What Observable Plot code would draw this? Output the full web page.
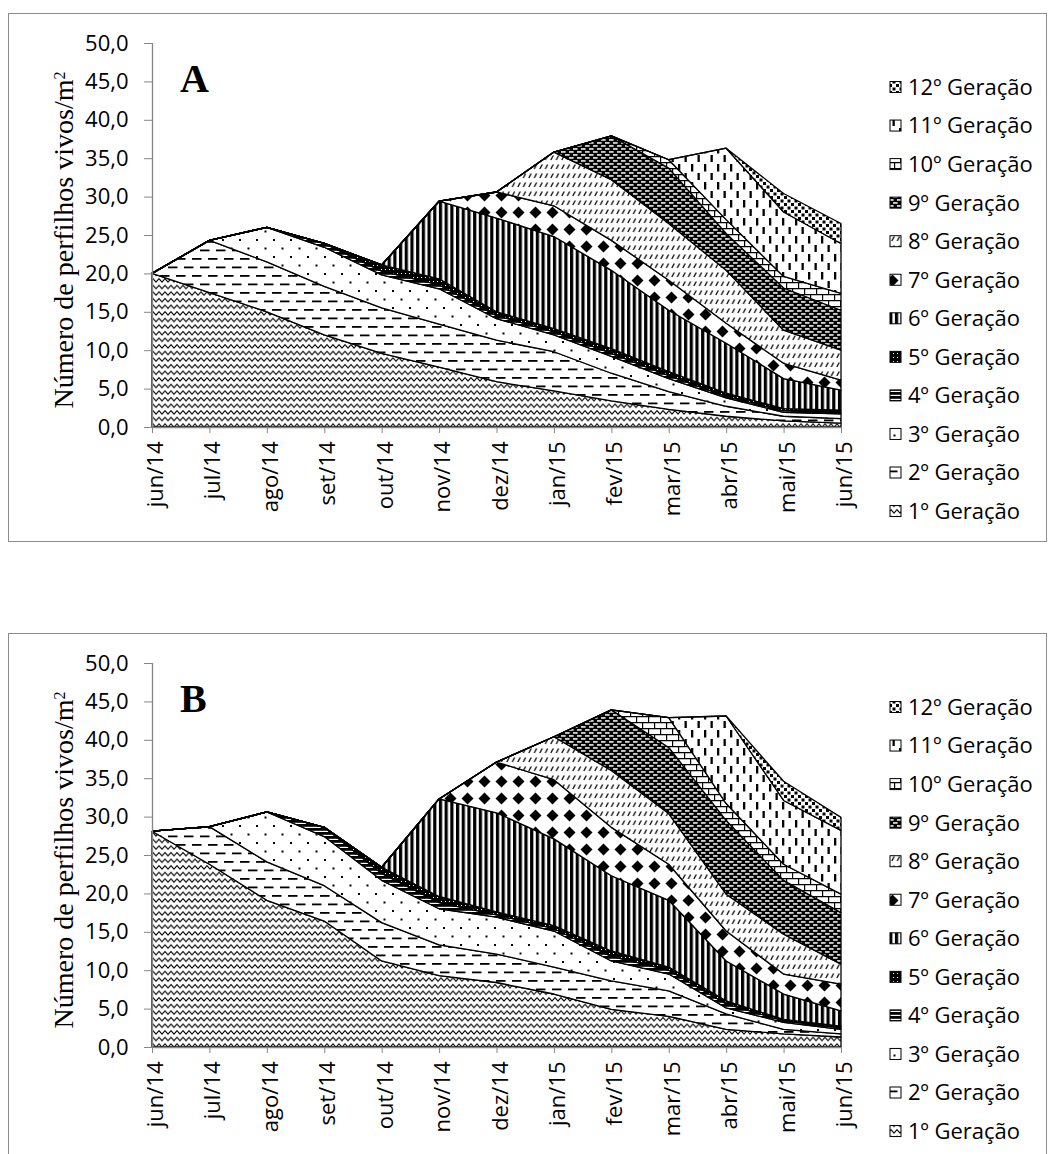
<!DOCTYPE html>
<html><head><meta charset="utf-8">
<script src="https://cdn.jsdelivr.net/npm/d3@7"></script>
<script src="https://cdn.jsdelivr.net/npm/@observablehq/plot@0.6"></script>
<style>
body{margin:0;background:#fff;width:1056px;height:1154px;overflow:hidden;position:relative;font-family:"Open Sans",sans-serif;}
.frame{position:absolute;left:8px;width:1039px;height:529px;border:1px solid #8c8c8c;box-sizing:border-box;}
.panel{position:absolute;left:0;}
</style></head><body>
<div class="frame" style="top:13px"></div>
<div class="frame" style="top:633px;height:540px"></div>
<div id="A" class="panel" style="top:0px"></div>
<div id="B" class="panel" style="top:620px"></div>
<script>
const months = ["jun/14","jul/14","ago/14","set/14","out/14","nov/14","dez/14","jan/15","fev/15","mar/15","abr/15","mai/15","jun/15"];
const generations = ["1º Geração","2º Geração","3º Geração","4º Geração","5º Geração","6º Geração","7º Geração","8º Geração","9º Geração","10º Geração","11º Geração","12º Geração"];
const yTicks = [0,5,10,15,20,25,30,35,40,45,50];

// Panel A – live tillers per generation
const A1  = [20.0,17.5,15.0,12.0,9.6,7.8,5.9,4.7,3.4,2.3,1.4,0.8,0.5];
const A2  = [0,6.8,6.5,6.3,5.9,5.6,5.4,5.1,3.6,2.3,1.3,0.6,0.6];
const A3  = [0,0,4.5,5.1,4.3,4.6,2.8,2.2,2.2,1.7,1.1,0.5,0.6];
const A4  = [0,0,0,0.5,0.5,0.5,0.4,0.4,0.4,0.4,0.2,0.2,0.2];
const A5  = [0,0,0,0,0.8,0.8,0.5,0.4,0.6,0.5,0.4,0.3,0.3];
const A6  = [0,0,0,0,0,10.1,12.2,12.0,10.2,8.0,6.5,3.9,2.6];
const A7  = [0,0,0,0,0,0,3.4,4.0,3.9,3.9,2.6,2.0,1.3];
const A8  = [0,0,0,0,0,0,0,7.0,7.9,7.4,6.9,4.3,3.9];
const A9  = [0,0,0,0,0,0,0,0,5.7,7.2,4.8,5.5,5.2];
const A10 = [0,0,0,0,0,0,0,0,0,1.1,1.8,1.5,2.2];
const A11 = [0,0,0,0,0,0,0,0,0,0,9.3,8.4,6.5];
const A12 = [0,0,0,0,0,0,0,0,0,0,0,2.4,2.6];

// Panel B
const B1  = [28.1,23.8,19.1,16.4,11.2,9.3,8.4,6.9,4.9,4.0,2.3,1.7,1.3];
const B2  = [0,4.9,5.0,4.6,5.0,4.0,3.7,3.5,3.7,3.3,2.0,0.6,0.4];
const B3  = [0,0,6.5,6.4,5.5,4.7,4.8,4.7,2.6,2.2,0.8,0.9,0.6];
const B4  = [0,0,0,1.2,0.9,0.8,0.3,0.3,0.6,0.5,0.5,0.2,0.2];
const B5  = [0,0,0,0,0.8,0.8,0.4,0.4,0.7,0.4,0.4,0.2,0.2];
const B6  = [0,0,0,0,0,12.7,12.9,11.3,9.8,8.7,5.2,3.3,2.0];
const B7  = [0,0,0,0,0,0,6.6,7.7,6.3,4.7,3.9,2.6,3.5];
const B8  = [0,0,0,0,0,0,0,5.6,7.4,6.6,4.8,5.2,2.6];
const B9  = [0,0,0,0,0,0,0,0,7.9,8.6,9.6,7.0,6.7];
const B10 = [0,0,0,0,0,0,0,0,0,3.9,2.2,2.1,2.4];
const B11 = [0,0,0,0,0,0,0,0,0,0,11.4,8.3,8.3];
const B12 = [0,0,0,0,0,0,0,0,0,0,0,2.5,1.7];

function addPatterns(svg, p) {
  const defs = d3.select(svg).insert("defs", ":first-child");
  const pat = (id, w, h) => {
    const g = defs.append("pattern").attr("id", p + id).attr("patternUnits", "userSpaceOnUse")
      .attr("width", w).attr("height", h);
    g.append("rect").attr("width", w).attr("height", h).attr("fill", "white");
    return g;
  };
  // 1: zigzag waves
  let g = pat(1, 6, 6.6);
  g.append("path").attr("d", "M-1.5,3.3 L0,4.8 L3,1.6 L6,4.8 L7.5,3.3").attr("fill", "none").attr("stroke", "black").attr("stroke-width", 1.15);
  // 2: horizontal dashes
  g = pat(2, 16, 17);
  [[0,3],[8,11.5],[-8,11.5]].forEach(([x,y]) => g.append("rect").attr("x", x).attr("y", y).attr("width", 9.5).attr("height", 1.8).attr("fill", "black"));
  // 3: sparse dots
  g = pat(3, 17, 17);
  [[1,1],[9.5,9.5]].forEach(([x,y]) => g.append("rect").attr("x", x).attr("y", y).attr("width", 2).attr("height", 2).attr("fill", "black"));
  // 4: dense horizontal lines
  g = pat(4, 4, 4);
  g.append("rect").attr("width", 4).attr("height", 2.8).attr("fill", "black");
  // 5: black with tiny white dots
  g = pat(5, 4, 4);
  g.select("rect").attr("fill", "black");
  g.append("rect").attr("x", 1).attr("y", 1).attr("width", 1).attr("height", 1).attr("fill", "white");
  // 6: vertical stripes
  g = pat(6, 5.7, 6);
  g.append("rect").attr("x", 0).attr("width", 3.2).attr("height", 6).attr("fill", "black");
  // 7: diamonds
  g = pat(7, 17, 17);
  g.append("path").attr("d", "M8.5,2.5 L14.5,8.5 L8.5,14.5 L2.5,8.5 Z").attr("fill", "black");
  // 8: small upward slashes
  g = pat(8, 5.5, 9);
  g.append("line").attr("x1", 0.8).attr("y1", 7).attr("x2", 3.2).attr("y2", 2.5).attr("stroke", "black").attr("stroke-width", 1.3);
  // 9: black with white dashes
  g = pat(9, 8, 6);
  g.select("rect").attr("fill", "black");
  [[1,1.2],[5,4.2],[-3,4.2]].forEach(([x,y]) => g.append("rect").attr("x", x).attr("y", y).attr("width", 4.6).attr("height", 1.5).attr("fill", "white"));
  // 10: bricks
  g = pat(10, 12, 12);
  g.append("path").attr("d", "M0,0.6 H12 M0,6.6 H12 M0.6,0.6 V6.6 M6.6,6.6 V12").attr("stroke", "black").attr("stroke-width", 1.2).attr("fill", "none");
  // 11: vertical dashes
  g = pat(11, 13, 18);
  [[2,2],[8.5,11]].forEach(([x,y]) => g.append("rect").attr("x", x).attr("y", y).attr("width", 2.3).attr("height", 7.5).attr("fill", "black"));
  // 12: small squares
  g = pat(12, 7, 7);
  [[0,0],[3.5,3.5]].forEach(([x,y]) => g.append("rect").attr("x", x).attr("y", y).attr("width", 3).attr("height", 3).attr("fill", "black"));
}

function chart(series, letter) {
  const data = [];
  series.forEach((arr, g) => arr.forEach((v, i) => data.push({i, month: months[i], gen: generations[g], k: g + 1, value: v})));
  const fmt = d => d.toFixed(1).replace(".", ",");
  const svg = Plot.plot({
    width: 1056, height: 545,
    marginLeft: 152, marginRight: 215, marginTop: 43, marginBottom: 118,
    x: {domain: [0, 12]},
    y: {domain: [0, 50]},
    color: {type: "identity"},
    style: {fontFamily: "Open Sans", fontSize: "22px", color: "black", overflow: "visible"},
    marks: [
      Plot.areaY(data, {x: "i", y: "value", z: "gen", fill: d => `url(#p${letter}${d.k})`, stroke: "black", strokeWidth: 1.3, strokeLinejoin: "miter"}),
      Plot.ruleX([0], {stroke: "#868686", strokeWidth: 1.3}),
      Plot.ruleY([0], {stroke: "#868686", strokeWidth: 1.3}),
      Plot.axisY({ticks: yTicks, tickFormat: fmt, tickSize: 8, tickPadding: 16, stroke: "#868686", label: null, fontSize: 22}),
      Plot.axisX({ticks: d3.range(13), tickFormat: i => months[i], tickRotate: -90, tickSize: 6, tickPadding: 8, stroke: "#868686", label: null, fontSize: 22})
    ]
  });
  addPatterns(svg, "p" + letter);
  const s = d3.select(svg);
  s.selectAll('g[aria-label="x-axis tick label"] text').attr("dy", "0.16em");
  const t = s.append("text").attr("transform", "translate(73,240) rotate(-90)").attr("text-anchor", "middle")
    .style("font-family", "'Liberation Serif', serif").style("font-size", "28px");
  t.append("tspan").text("Número de perfilhos vivos/m");
  t.append("tspan").attr("baseline-shift", "super").style("font-size", "16px").text("2");
  s.append("text").attr("x", 180).attr("y", 92).attr("text-anchor", "start").style("font-family", "'Liberation Serif', serif")
    .style("font-size", "40px").style("font-weight", "bold").text(letter);
  const lg = s.append("g").attr("text-anchor", "start");
  for (let r = 0; r < 12; r++) {
    const k = 12 - r;
    const cy = 87 + r * 38.55;
    lg.append("rect").attr("x", 890).attr("y", cy - 5.5).attr("width", 11).attr("height", 11)
      .attr("fill", `url(#p${letter}${k})`).attr("stroke", "black").attr("stroke-width", 1);
    lg.append("text").attr("x", 908).attr("y", cy).attr("dy", "0.36em")
      .style("font-family", "'Open Sans'").style("font-size", "22px").text(generations[k - 1]);
  }
  return svg;
}

document.getElementById("A").appendChild(chart([A1,A2,A3,A4,A5,A6,A7,A8,A9,A10,A11,A12], "A"));
document.getElementById("B").appendChild(chart([B1,B2,B3,B4,B5,B6,B7,B8,B9,B10,B11,B12], "B"));
</script>
</body></html>
